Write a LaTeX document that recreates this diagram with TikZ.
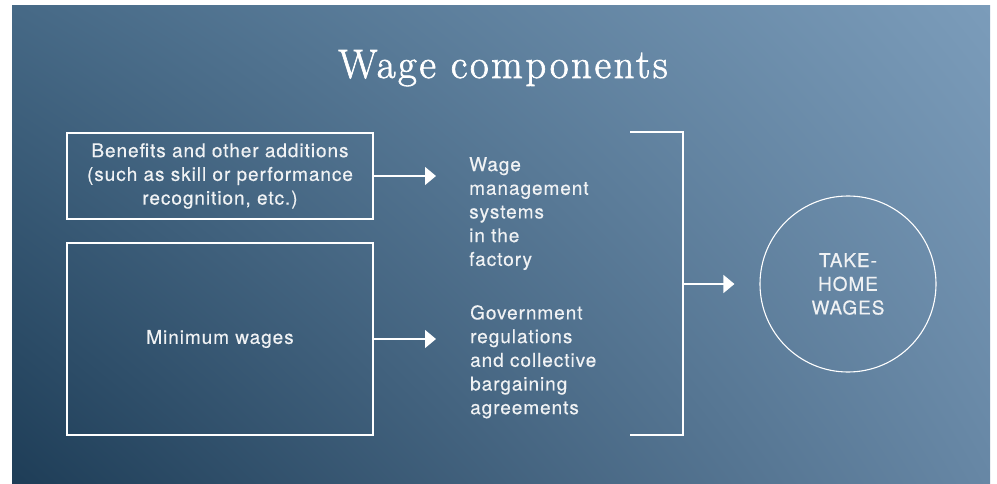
\documentclass[tikz,border=0pt]{standalone}
\usepackage{fontspec}
\usepackage{xcolor}
\newfontfamily\labelfont[LetterSpace=5, FakeBold=0.4]{TeX Gyre Heros}
\newfontfamily\titlefont[LetterSpace=6, FakeBold=1.6]{Latin Modern Roman}
\usetikzlibrary{arrows.meta, calc, shadings}

\definecolor{bgUL}{HTML}{466986}
\definecolor{bgUR}{HTML}{7B9CBA}
\definecolor{bgLL}{HTML}{1E3D57}
\definecolor{bgLR}{HTML}{6787A5}
\definecolor{textwhite}{HTML}{F0F2F4}
\newcommand{\labelsize}{\labelfont\fontsize{19}{23.7}\selectfont}

\begin{document}
\begin{tikzpicture}[
    x=1pt, y=-1pt,
    box/.style={
        rectangle,
        draw=white,
        line width=1.3pt,
        minimum width=306pt,
        inner sep=0pt,
        align=center,
        text=textwhite,
        font=\labelsize
    },
    note/.style={
        inner sep=0pt,
        align=left,
        text=textwhite,
        font=\labelsize
    },
    wire/.style={
        draw=white,
        line width=1.3pt
    },
    arrow/.style={
        wire,
        -{Triangle[length=11pt, width=18pt]}
    }
]
% Background
\useasboundingbox (0,0) rectangle (997,484);
\fill[white] (0,0) rectangle (997,484);
\shade[upper left=bgUL, upper right=bgUR, lower left=bgLL, lower right=bgLR]
    (12,6) rectangle (990,484);

% Title
\node[anchor=base, text=white, font=\titlefont\fontsize{41}{46}\selectfont] (title) at (503,78) {Wage components};

% Nodes
\node[box, minimum height=86pt] (benefits) at (220,176) {Benefits and other additions\\(such as skill or performance\\recognition, etc.)};
\node[box, minimum height=192pt] (minimum) at (220,339) {Minimum wages};

\node[note, anchor=north west] (mgmt) at (469,157) {Wage\\management\\systems\\in the\\factory};
\node[note, anchor=north west] (govt) at (470,305) {Government\\regulations\\and collective\\bargaining\\agreements};

\node[circle, draw=white, line width=1.1pt, minimum size=176pt, inner sep=0pt,
      align=center, text=textwhite, font=\labelsize] (takehome) at (848,284) {TAKE-\\HOME\\WAGES};

% Bracket
\coordinate (mgmt in) at (436,176);
\coordinate (govt in) at (436,339);
\coordinate (brace top) at (630,132);
\coordinate (brace mid) at (683,284);
\coordinate (brace bot) at (630,435);
\draw[wire] (brace top) -| (brace mid) |- (brace bot);

% Arrows
\draw[arrow] (benefits.east) -- (mgmt in);
\draw[arrow] (minimum.east) -- (govt in);
\draw[arrow, shorten >=25pt] (brace mid) -- (takehome.west);
\end{tikzpicture}
\end{document}
